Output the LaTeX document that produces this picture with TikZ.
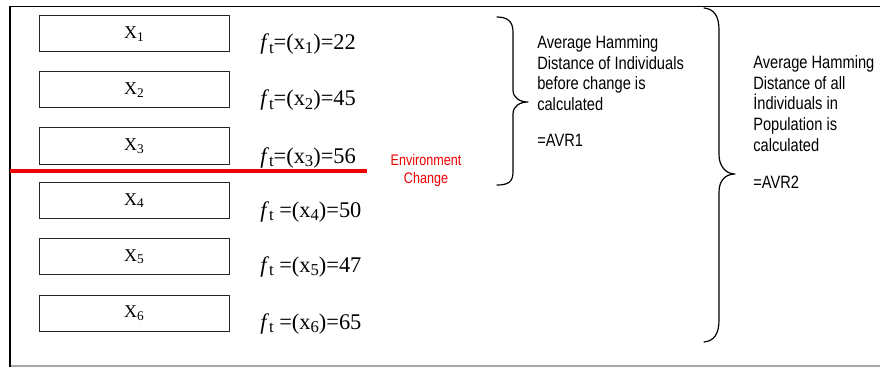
\documentclass[tikz,border=0pt]{standalone}
\usepackage{fontspec}
\setmainfont{Liberation Serif}
\setsansfont{Liberation Sans}
\newfontfamily\notefont{Liberation Sans}[FakeStretch=0.82]
\newcommand{\xsb}[1]{\raisebox{-0.3ex}{\fontsize{10}{10}\selectfont #1}}
\newcommand{\fsb}[1]{\raisebox{-0.3ex}{\fontsize{12.5}{12}\selectfont #1}}
\definecolor{envred}{RGB}{240,0,0}
\tikzset{
  cell/.style={draw=black!85, line width=0.75pt, minimum width=142.5pt, minimum height=27pt, inner sep=0pt, font=\fontsize{13.5}{16}\selectfont},
  fval/.style={anchor=base west, inner sep=0pt, font=\fontsize{16.8}{20}\selectfont},
  note/.style={anchor=north west, inner sep=0pt, align=left, font=\notefont\fontsize{13.4}{15.6}\selectfont},
  envnote/.style={inner sep=0pt, align=center, text=envred, font=\notefont\fontsize{11.5}{13.5}\selectfont},
  brace/.style={line width=0.9pt, line cap=round, line join=round}
}
\begin{document}
\begin{tikzpicture}[x=0.75pt,y=-0.75pt]
\useasboundingbox (0,0) rectangle (880,367);
\fill[white] (0,0) rectangle (880,367);
% frame
\draw[gray!70, line width=1pt] (10,366) -- (880,366);
\draw[line width=1.3pt] (10,367) -- (10,6.5) -- (880,6.5);
% individuals
\node[cell] (c1) at (134,34) {X\xsb{1}};
\node[cell] (c2) at (134,90) {X\xsb{2}};
\node[cell] (c3) at (134,146) {X\xsb{3}};
\node[cell] (c4) at (134,200.5) {X\xsb{4}};
\node[cell] (c5) at (134,256.5) {X\xsb{5}};
\node[cell] (c6) at (134,313) {X\xsb{6}};
% fitness values
\node[fval] (f1) at (260,50) {\textit{f}\fsb{t}=(x\fsb{1})=22};
\node[fval] (f2) at (260,106) {\textit{f}\fsb{t}=(x\fsb{2})=45};
\node[fval] (f3) at (260,163) {\textit{f}\fsb{t}=(x\fsb{3})=56};
\node[fval] (f4) at (260,217) {\textit{f}\fsb{t} =(x\fsb{4})=50};
\node[fval] (f5) at (260,272) {\textit{f}\fsb{t} =(x\fsb{5})=47};
\node[fval] (f6) at (260,329) {\textit{f}\fsb{t} =(x\fsb{6})=65};
% environment change
\coordinate (rl) at (10,171);
\coordinate (rr) at (367,171);
\draw[envred, line width=2.3pt] (rl) -- (rr);
\node[envnote] (env) at (426,171) {Environment\\Change};
% braces
\draw[brace] (497,17) .. controls (508,17) and (513,22) .. (513,32) -- (513,90)
  .. controls (513,98) and (520,102) .. (528,102)
  .. controls (520,102) and (513,106) .. (513,114) -- (513,172)
  .. controls (513,182) and (508,185) .. (497,185);
\draw[brace] (704,8) .. controls (714,9) and (719,16) .. (719,30) -- (719,155)
  .. controls (719,166) and (726,174) .. (735,174)
  .. controls (726,174) and (719,180) .. (719,192) -- (719,320)
  .. controls (719,334) and (714,341) .. (704,342);
% notes
\node[note] (avr1) at (537,35) {Average Hamming\\Distance of Individuals\\before change is\\calculated\\[11pt]=AVR1};
\node[note] (avr2) at (753,55) {Average Hamming\\Distance of all\\İndividuals in\\Population is\\calculated\\[12pt]=AVR2};
\end{tikzpicture}
\end{document}
